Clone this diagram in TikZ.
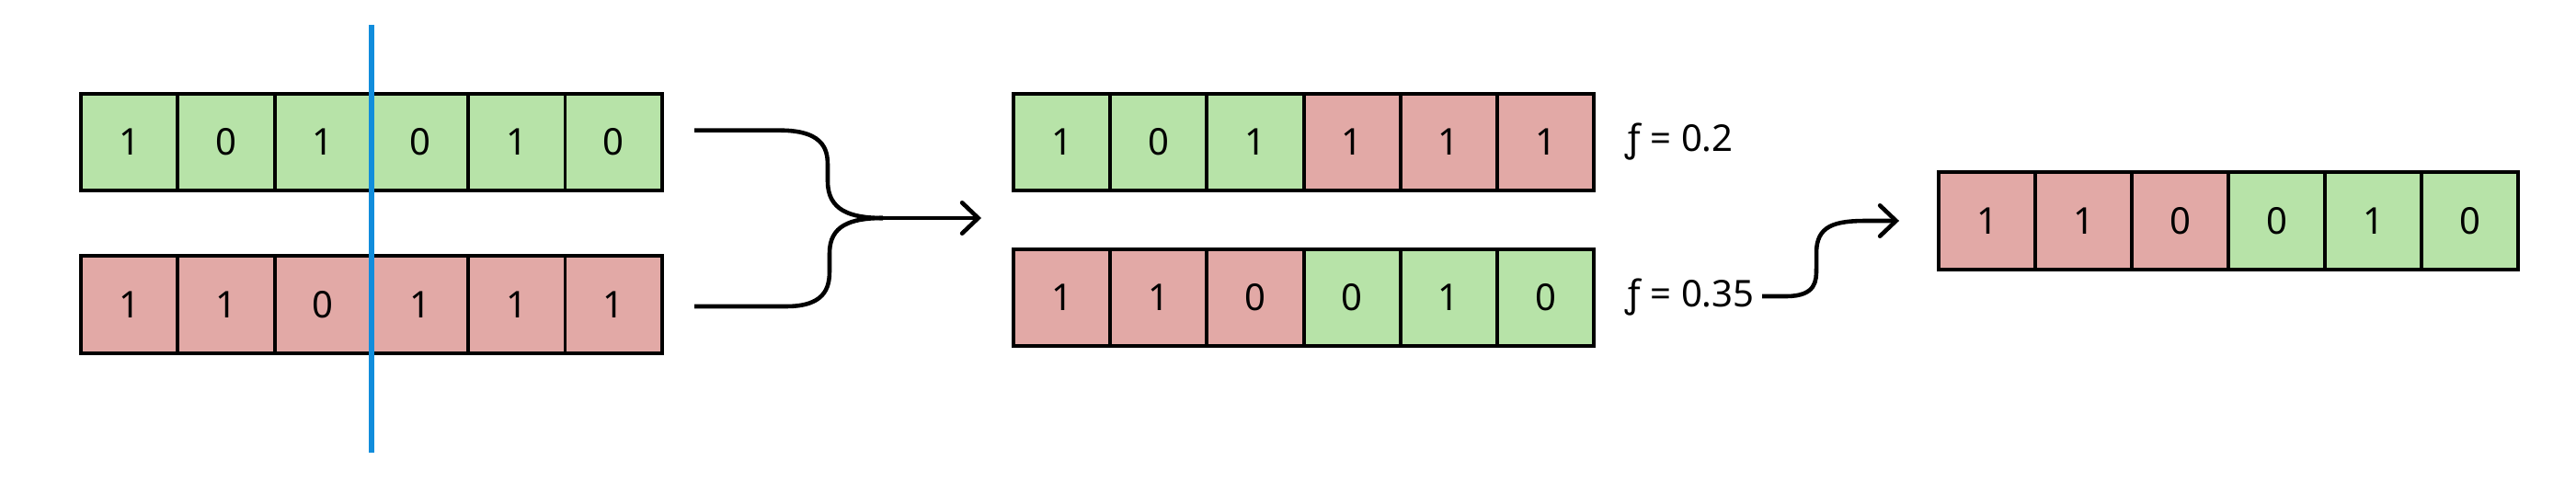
\documentclass[tikz,border=0pt]{standalone}
\usepackage{fontspec}
\setmainfont{Noto Sans}
\usepackage{tikz}
\usetikzlibrary{arrows.meta}
\definecolor{genegreen}{HTML}{B7E3A8}
\definecolor{genered}{HTML}{E2A9A6}
\definecolor{cutblue}{HTML}{118DDC}
\tikzset{
  cell/.style={draw=black,line width=1.1pt,minimum size=1.053cm,inner sep=0pt,
               font=\fontsize{11.4}{13}\selectfont},
  G/.style={cell,fill=genegreen},
  R/.style={cell,fill=genered},
  flow/.style={line width=1.3pt},
  flowtip/.style={flow,-{Straight Barb[length=5pt,width=9.5pt,line cap=round]}}
}
\begin{document}
\begin{tikzpicture}
    \useasboundingbox (0,0) rectangle (28.01,5.37);

    % parents
    \foreach \b [count=\i] in {1,0,1,0,1,0} {
        \node[G] (p\i) at (0.88+\i*1.053-0.5265, 3.825) {\b};
    }
    \foreach \b [count=\i] in {1,1,0,1,1,1} {
        \node[R] (q\i) at (0.88+\i*1.053-0.5265, 2.06) {\b};
    }

    % crossover point
    \coordinate (cuttop) at (4.04,5.10);
    \coordinate (cutbot) at (4.04,0.45);
    \draw[cutblue,line width=1.45pt] (cuttop) -- (cutbot);

    % children
    \foreach \b/\c [count=\i] in {1/G,0/G,1/G,1/R,1/R,1/R} {
        \node[\c] (c\i) at (11.02+\i*1.052-0.526, 3.825) {\b};
    }
    \foreach \b/\c [count=\i] in {1/R,1/R,0/R,0/G,1/G,0/G} {
        \node[\c] (d\i) at (11.02+\i*1.052-0.526, 2.135) {\b};
    }
    \node[anchor=west,inner sep=0pt,font=\fontsize{11.4}{13}\selectfont] (f1) at (17.67,3.825) {ƒ = 0.2};
    \node[anchor=west,inner sep=0pt,font=\fontsize{11.4}{13}\selectfont] (f2) at (17.67,2.135) {ƒ = 0.35};

    % selected child
    \foreach \b/\c [count=\i] in {1/R,1/R,0/R,0/G,1/G,0/G} {
        \node[\c] (s\i) at (21.08+\i*1.05-0.525, 2.97) {\b};
    }

    % merge
    \coordinate (m1) at (7.55,3.953);
    \coordinate (m2) at (7.55,2.04);
    \coordinate (mj) at (9.60,3.00);
    \coordinate (mt) at (10.67,3.00);
    \draw[flow] (m1) -- (8.48,3.953) .. controls (9.00,3.953) and (9.00,3.70) .. (9.00,3.55)
        -- (9.00,3.40) .. controls (9.00,3.08) and (9.25,3.00) .. (mj);
    \draw[flow] (m2) -- (8.55,2.04) .. controls (9.02,2.04) and (9.02,2.30) .. (9.02,2.45)
        -- (9.02,2.62) .. controls (9.02,2.92) and (9.25,3.00) .. (mj);
    \draw[flowtip] (mj) -- (mt);

    % pick
    \coordinate (k1) at (19.16,2.15);
    \coordinate (k2) at (20.65,2.97);
    \draw[flowtip] (k1) -- (19.42,2.15) .. controls (19.75,2.15) and (19.75,2.32) .. (19.75,2.45)
        -- (19.75,2.62) .. controls (19.75,2.92) and (19.95,2.97) .. (20.30,2.97) -- (k2);
\end{tikzpicture}
\end{document}
